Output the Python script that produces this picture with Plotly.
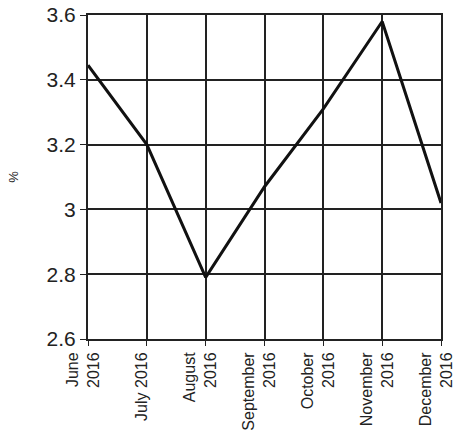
import plotly.graph_objects as go

months = ["June<br>2016", "July 2016", "August<br>2016", "September<br>2016",
          "October<br>2016", "November<br>2016", "December<br>2016"]
rate = [3.445, 3.20, 2.79, 3.07, 3.31, 3.58, 3.02]
y_ticks = [2.6, 2.8, 3.0, 3.2, 3.4, 3.6]
y_tick_text = ["2.6", "2.8", "3", "3.2", "3.4", "3.6"]

fig = go.Figure()
fig.add_trace(go.Scatter(x=list(range(len(months))), y=rate, mode="lines",
                         line=dict(color="#111111", width=3), hoverinfo="skip"))

fig.update_layout(
    width=454, height=443,
    margin=dict(l=88, r=13, t=15, b=104),
    paper_bgcolor="white", plot_bgcolor="white",
    showlegend=False,
    font=dict(family="Liberation Sans, Arial, sans-serif", color="#222222"),
    xaxis=dict(range=[0, 6], tickvals=list(range(len(months))), ticktext=months,
               tickangle=-90, tickfont=dict(size=16), showgrid=True, automargin=False,
               ticklabeloverflow="allow", ticklabelshift=-5,
               gridcolor="#222222", gridwidth=2, showline=True, linecolor="#222222",
               linewidth=2, mirror=True, ticks="outside", ticklen=5, tickcolor="#222222",
               zeroline=False),
    yaxis=dict(range=[2.6, 3.6], tickvals=y_ticks, ticktext=y_tick_text, automargin=False,
               ticklabeloverflow="allow",
               tickfont=dict(size=21), showgrid=True, gridcolor="#222222", gridwidth=2,
               showline=True, linecolor="#222222", linewidth=2, mirror=True,
               ticks="outside", ticklen=6, tickcolor="#222222", zeroline=False,
               title=dict(text="%", font=dict(size=13), standoff=25)),
)

fig.write_html(
    "out.html",
    config={"displayModeBar": False},
    post_script="document.body.style.margin='0';document.body.style.overflow='hidden';",
)
